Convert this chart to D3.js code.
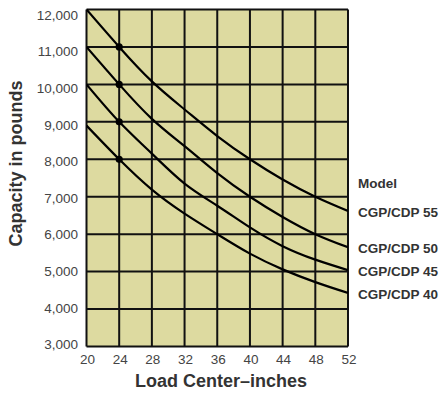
<!DOCTYPE html>
<html>
<head>
<meta charset="utf-8">
<script src="https://cdn.jsdelivr.net/npm/d3@7"></script>
<style>
  html, body { margin: 0; padding: 0; background: #fff; }
  svg { display: block; }
  text { font-family: "Liberation Sans", Arial, Helvetica, sans-serif; }
</style>
</head>
<body>
<svg id="chart" width="440" height="400"></svg>
<script>
// ---- Data ----
const loadCenters = [20, 24, 28, 32, 36, 40, 44, 48, 52];
const cap55 = [12000, 11000, 10080, 9330, 8620, 8000, 7460, 7000, 6620];
const cap50 = [11000, 10000, 9080, 8350, 7630, 7000, 6460, 6000, 5650];
const cap45 = [10000, 9000, 8150, 7350, 6760, 6180, 5680, 5320, 5040];
const cap40 = [8900, 8000, 7190, 6550, 6000, 5480, 5060, 4720, 4430];
const seriesNames = ["CGP/CDP 55", "CGP/CDP 50", "CGP/CDP 45", "CGP/CDP 40"];
const seriesValues = [cap55, cap50, cap45, cap40];
const markedLoadCenter = 24;
const xTickValues = [20, 24, 28, 32, 36, 40, 44, 48, 52];
const yTickValues = [3000, 4000, 5000, 6000, 7000, 8000, 9000, 10000, 11000, 12000];
const xTitle = "Load Center\u2013inches";
const yTitle = "Capacity in pounds";
const legendTitle = "Model";

// ---- Layout ----
const svg = d3.select("#chart");
const pLeft = 86.5, pRight = 348, pTop = 9.5, pBottom = 346.5;

const x = d3.scaleLinear().domain([20, 52]).range([pLeft, pRight]);
const y = d3.scaleLinear().domain([3000, 12000]).range([pBottom, pTop]);
const yLab = d3.scaleLinear().domain([3000, 12000]).range([344.5, 15]);

const fmt = d3.format(",");

// plot background
svg.append("rect")
  .attr("x", pLeft).attr("y", pTop)
  .attr("width", pRight - pLeft).attr("height", pBottom - pTop)
  .attr("fill", "#dddaa0");

// grid lines
const grid = svg.append("g").attr("stroke", "#111").attr("stroke-width", 2);
grid.selectAll("line.v").data(xTickValues).join("line")
  .attr("class", "v")
  .attr("x1", d => x(d)).attr("x2", d => x(d))
  .attr("y1", pTop).attr("y2", pBottom);
grid.selectAll("line.h").data(yTickValues).join("line")
  .attr("class", "h")
  .attr("x1", pLeft).attr("x2", pRight)
  .attr("y1", d => y(d)).attr("y2", d => y(d));

// clip for curves
svg.append("clipPath").attr("id", "plotclip")
  .append("rect").attr("x", pLeft).attr("y", pTop - 1)
  .attr("width", pRight - pLeft).attr("height", pBottom - pTop + 1);

const line = d3.line()
  .x((d, i) => x(loadCenters[i]))
  .y(d => y(d))
  .curve(d3.curveNatural);

const curves = svg.append("g").attr("clip-path", "url(#plotclip)");
curves.selectAll("path").data(seriesValues).join("path")
  .attr("d", d => line(d))
  .attr("fill", "none")
  .attr("stroke", "#000")
  .attr("stroke-width", 2.2);

// dots at load center 24
const mi = loadCenters.indexOf(markedLoadCenter);
svg.append("g").selectAll("circle").data(seriesValues).join("circle")
  .attr("cx", x(markedLoadCenter))
  .attr("cy", d => y(d[mi]))
  .attr("r", 3.6)
  .attr("fill", "#000");

// y tick labels
svg.append("g").selectAll("text").data(yTickValues).join("text")
  .attr("x", 78)
  .attr("y", d => yLab(d))
  .attr("dy", "0.35em")
  .attr("text-anchor", "end")
  .attr("font-size", 13.5)
  .attr("fill", "#444")
  .text(d => fmt(d));

// x tick labels
svg.append("g").selectAll("text").data(xTickValues).join("text")
  .attr("x", d => x(d) + 1)
  .attr("y", 364)
  .attr("text-anchor", "middle")
  .attr("font-size", 13.5)
  .attr("fill", "#444")
  .text(d => d);

// axis titles
svg.append("text")
  .attr("x", 221).attr("y", 387)
  .attr("text-anchor", "middle")
  .attr("font-size", 18)
  .attr("font-weight", "bold")
  .attr("fill", "#333")
  .text(xTitle);

svg.append("text")
  .attr("transform", "translate(22,163.5) rotate(-90)")
  .attr("text-anchor", "middle")
  .attr("font-size", 18)
  .attr("font-weight", "bold")
  .attr("fill", "#333")
  .text(yTitle);

// legend
svg.append("text")
  .attr("x", 358).attr("y", 183)
  .attr("dy", "0.35em")
  .attr("font-size", 13.5)
  .attr("font-weight", "bold")
  .attr("fill", "#333")
  .text(legendTitle);

const lastIdx = loadCenters.length - 1;
svg.append("g").selectAll("text").data(seriesNames).join("text")
  .attr("x", 358)
  .attr("y", (d, i) => y(seriesValues[i][lastIdx]) + 1.5)
  .attr("dy", "0.35em")
  .attr("font-size", 13.5)
  .attr("font-weight", "bold")
  .attr("fill", "#333")
  .text(d => d);
</script>
</body>
</html>
